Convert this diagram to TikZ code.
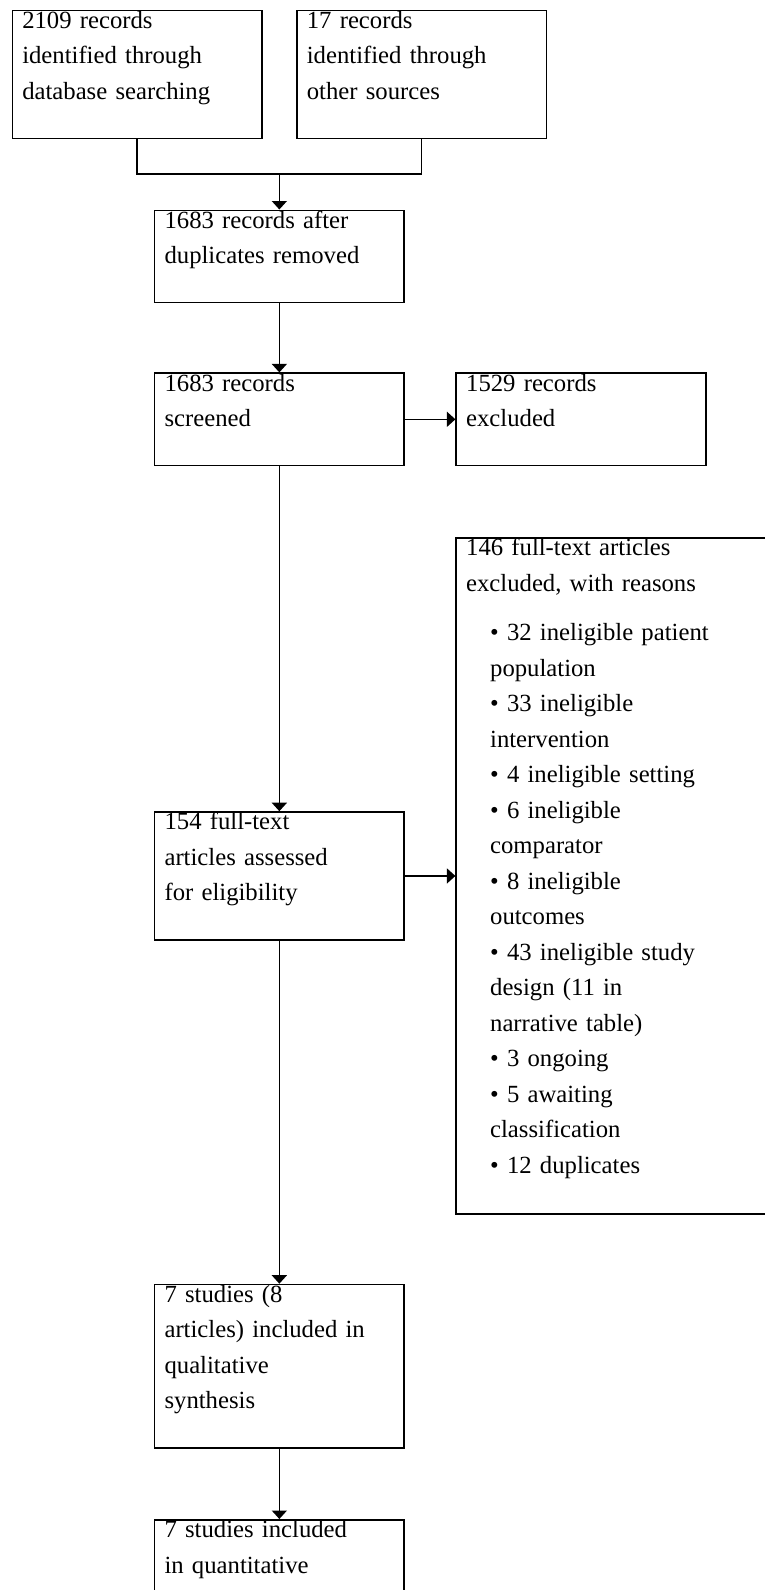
\documentclass[tikz,border=0pt]{standalone}
\usepackage{fontspec}
\setmainfont{Liberation Serif}
\usetikzlibrary{calc,positioning,arrows.meta}
\newcommand{\ind}{\hspace*{24pt}}

\begin{document}
\begin{tikzpicture}[
    x=1pt, y=-1pt,
    box/.style={draw=black, line width=1.5pt, align=left, text width=229.6pt, inner xsep=10pt, inner ysep=0pt, text height=18pt, font=\fontsize{24.7}{35.5}\selectfont},
    arrow/.style={-{Triangle[width=15pt,length=8.5pt]}, line width=1.5pt},
    line/.style={line width=1.5pt}
]
    \useasboundingbox (0,0) rectangle (765,1590);
    \clip (0,0) rectangle (765,1590);

    % Nodes
    \node [box, text depth=110pt, anchor=north west] (dbs) at (11.5,9.5) {2109 records\\identified through\\database searching};
    \node [box, text depth=110pt, right=33.5pt of dbs] (other) {17 records\\identified through\\other sources};
    \coordinate (join) at ($(dbs.south)!0.5!(other.south) + (0,35)$);
    \node [box, text depth=74.4pt, below=35.5pt of join] (dedup) {1683 records after\\duplicates removed};
    \node [box, text depth=74.3pt, below=69pt of dedup] (screened) {1683 records\\screened};
    \node [box, text depth=74.3pt, right=50.5pt of screened] (excl) {1529 records\\excluded};
    \node [box, text depth=110pt, below=345pt of screened] (fulltext) {154 full-text\\articles assessed\\for eligibility};
    \node [box, text width=300pt, text depth=658pt, right=50.5pt of fulltext] (ftexcl) {146 full-text articles\\excluded, with reasons\\[14pt]
        \ind• 32 ineligible patient\\\ind population\\
        \ind• 33 ineligible\\\ind intervention\\
        \ind• 4 ineligible setting\\
        \ind• 6 ineligible\\\ind comparator\\
        \ind• 8 ineligible\\\ind outcomes\\
        \ind• 43 ineligible study\\\ind design (11 in\\\ind narrative table)\\
        \ind• 3 ongoing\\
        \ind• 5 awaiting\\\ind classification\\
        \ind• 12 duplicates};
    \node [box, text depth=145.3pt, below=343pt of fulltext] (qual) {7 studies (8\\articles) included in\\qualitative\\synthesis};
    \node [box, text depth=145.3pt, below=70.5pt of qual] (quant) {7 studies included\\in quantitative\\synthesis};

    % Paths
    \draw [line] (dbs.south) |- (join) -| (other.south);
    \draw [arrow] (join) -- (dedup);
    \draw [arrow] (dedup) -- (screened);
    \draw [arrow] (screened) -- (excl);
    \draw [arrow] (screened) -- (fulltext);
    \draw [arrow] (fulltext) -- (ftexcl);
    \draw [arrow] (fulltext) -- (qual);
    \draw [arrow] (qual) -- (quant);
\end{tikzpicture}
\end{document}
